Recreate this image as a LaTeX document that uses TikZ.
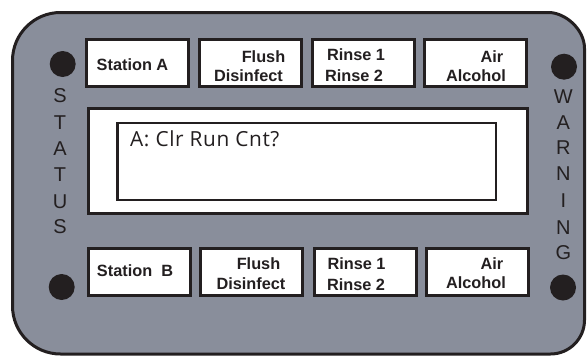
\documentclass[tikz,border=0pt]{standalone}
\usepackage{fontspec}
\setmainfont{Liberation Sans}
\newfontfamily\lcdfont[LetterSpace=3]{Open Sans}
\definecolor{panel}{RGB}{137,142,155}
\definecolor{ink}{RGB}{35,31,32}

\begin{document}
\begin{tikzpicture}[x=1pt,y=-1pt,
  frame/.style={draw=ink, line width=3pt, fill=panel},
  keybox/.style={rectangle, draw=ink, line width=3pt, fill=white,
    minimum width=102pt, minimum height=47pt, inner sep=0pt},
  keytext/.style={font=\fontsize{16.3}{16.3}\selectfont\bfseries, text=ink,
    inner sep=0pt, anchor=base},
  lamp/.style={circle, fill=ink, minimum size=26pt, inner sep=0pt},
  sideletter/.style={font=\fontsize{20}{20}\selectfont, text=ink,
    inner sep=0pt, anchor=base},
  screen/.style={rectangle, draw=ink, fill=white, inner sep=0pt},
  lcdtext/.style={font=\lcdfont\fontsize{20.8}{20.8}\selectfont, text=ink,
    inner sep=0pt, anchor=base west}]

\useasboundingbox (0,0) rectangle (588,356);

% housing with unequal corner radii
\path[frame] (60.5,12.5) -- (548.5,12.5)
  .. controls (565,12.5) and (584.5,29) .. (584.5,48.5)
  -- (584.5,320)
  .. controls (584.5,338.8) and (569.3,354) .. (550.5,354)
  -- (60.5,354)
  .. controls (34,354) and (12.5,332.5) .. (12.5,306)
  -- (12.5,60.5)
  .. controls (12.5,34) and (34,12.5) .. (60.5,12.5) -- cycle;

% indicator lamps
\node[lamp] (lampTL) at (62.7,64) {};
\node[lamp] (lampTR) at (564,66.7) {};
\node[lamp] (lampBL) at (61.7,287) {};
\node[lamp] (lampBR) at (563,287.5) {};

% display window
\node[screen, line width=3pt, minimum width=438.4pt, minimum height=105pt]
  (bezel) at (308,161.3) {};
\node[screen, line width=2.5pt, minimum width=378.8pt, minimum height=76.8pt]
  (lcd) at (306.65,161.35) {};
\node[lcdtext] (msg) at (130,146.8) {A: Clr Run Cnt?};

% upper key row
\node[keybox] (keySA) at (137.5,63) {};
\node[keybox] (keyFA) at (250.2,63) {};
\node[keybox] (keyRA) at (363.2,63) {};
\node[keybox] (keyAA) at (475.5,63) {};
\node[keytext] (txtSA)  at (132.5,70)   {Station A};
\node[keytext] (txtFA1) at (263.5,62.7) {Flush};
\node[keytext] (txtFA2) at (248.5,81.5) {Disinfect};
\node[keytext] (txtRA1) at (356,60)     {Rinse 1};
\node[keytext] (txtRA2) at (354,81)     {Rinse 2};
\node[keytext] (txtAA1) at (492,62.5)   {Air};
\node[keytext] (txtAA2) at (476,81.5)   {Alcohol};

% lower key row
\node[keybox] (keySB) at (139.2,271.7) {};
\node[keybox] (keyFB) at (251.8,271.7) {};
\node[keybox] (keyRB) at (365.5,271.7) {};
\node[keybox] (keyAB) at (477.2,271.7) {};
\node[keytext] (txtSB)  at (135,276)    {Station\ \ B};
\node[keytext] (txtFB1) at (258.5,269)  {Flush};
\node[keytext] (txtFB2) at (251,289)    {Disinfect};
\node[keytext] (txtRB1) at (356.5,269)  {Rinse 1};
\node[keytext] (txtRB2) at (356,290)    {Rinse 2};
\node[keytext] (txtAB1) at (492,269)    {Air};
\node[keytext] (txtAB2) at (476,288)    {Alcohol};

% vertical side captions
\foreach \ch/\yb [count=\i] in {S/102.5, T/129, A/155.5, T/181.5, U/208, S/233.5}
  \node[sideletter] (status\i) at (60,\yb) {\ch};
\foreach \ch/\yb [count=\i] in {W/103, A/129, R/154.5, N/180.5, I/207.5, N/234, G/259.5}
  \node[sideletter] (warning\i) at (563.3,\yb) {\ch};
\end{tikzpicture}
\end{document}
